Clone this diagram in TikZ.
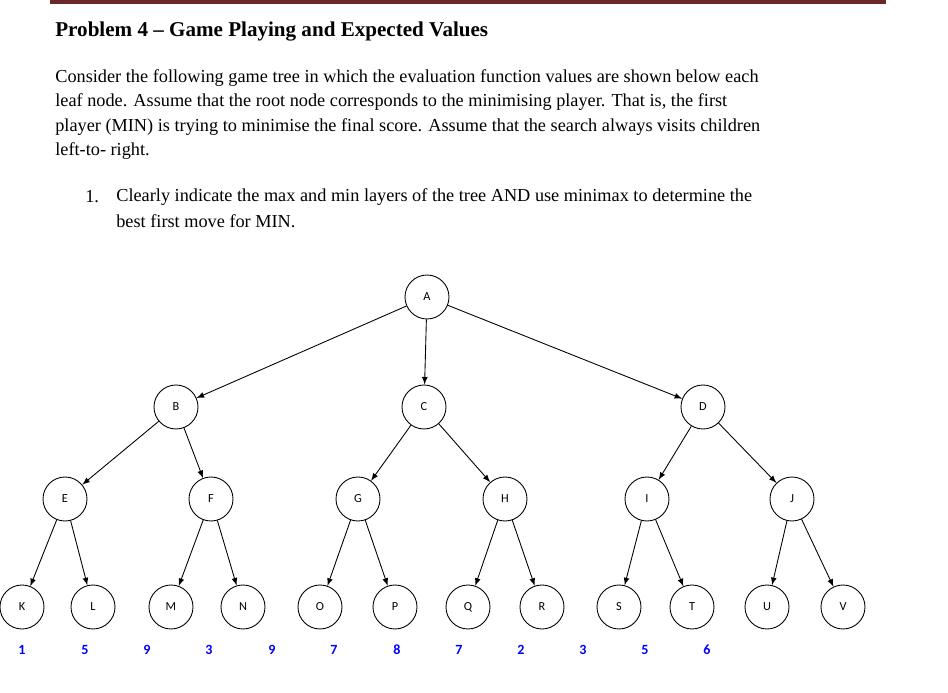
\documentclass[tikz,border=0pt]{standalone}
\usepackage{fontspec}
\setmainfont{Liberation Serif}
\newfontfamily\carlitofam{Carlito}
\begin{document}
\begin{tikzpicture}[x=0.02cm,y=-0.02cm,
  nd/.style={circle,draw,line width=0.5pt,minimum size=44*0.02cm,inner sep=0pt,font=\carlitofam\fontsize{7}{8}\selectfont},
  ar/.style={-latex,line width=0.5pt},
  val/.style={text=blue,font=\carlitofam\bfseries\fontsize{8}{9}\selectfont},
  body/.style={anchor=west,inner sep=0pt,font=\fontsize{10.4}{12}\selectfont}]
\useasboundingbox (0,0) rectangle (948,693);
\fill[fill={rgb,255:red,108;green,40;blue,40}] (50,0) rectangle (886,4);
\node[anchor=west,inner sep=0pt,font=\bfseries\fontsize{12}{14}\selectfont] (t) at (55,32) {Problem 4 -- Game Playing and Expected Values};
\node[body] (l1) at (55,78) {Consider the following game tree in which the evaluation function values are shown below each};
\node[body] (l2) at (55,102) {leaf node. Assume that the root node corresponds to the minimising player. That is, the first};
\node[body] (l3) at (55,127) {player (MIN) is trying to minimise the final score. Assume that the search always visits children};
\node[body] (l4) at (55,151) {left-to- right.};
\node[body] (n1) at (85,197) {1.};
\node[body] (i1) at (116,197) {Clearly indicate the max and min layers of the tree AND use minimax to determine the};
\node[body] (i2) at (116,221) {best first move for MIN.};
\node[nd] (A) at (427,297) {A};
\node[nd] (B) at (176,407) {B};
\node[nd] (C) at (424,407) {C};
\node[nd] (D) at (703,407) {D};
\foreach \n/\x in {E/65,F/211,G/358,H/505,I/647,J/792}{\node[nd] (\n) at (\x,499) {\n};}
\foreach \n/\x in {K/22,L/93,M/171,N/243,O/320,P/395,Q/468,R/542,S/619,T/692,U/767,V/843}{\node[nd] (\n) at (\x,607) {\n};}
\foreach \a/\b in {A/B,A/C,A/D,B/E,B/F,C/G,C/H,D/I,D/J,E/K,E/L,F/M,F/N,G/O,G/P,H/Q,H/R,I/S,I/T,J/U,J/V}{\draw[ar] (\a) -- (\b);}
\foreach \v/\x [count=\i] in {1/22,5/85,9/147,3/209,9/272,7/334,8/397,7/459,2/521,3/583,5/645,6/707}{\node[val] (v\i) at (\x,650) {\v};}
\end{tikzpicture}
\end{document}
